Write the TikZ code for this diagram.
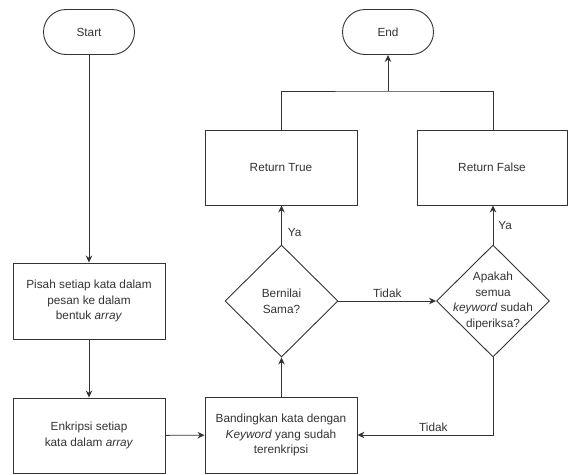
\documentclass[tikz,border=0pt]{standalone}
\usepackage{fontspec}
\setmainfont{Liberation Sans}
\usetikzlibrary{arrows.meta,shapes.geometric}
\definecolor{ink}{HTML}{333333}
\begin{document}
\begin{tikzpicture}[x=1pt,y=-1pt,
  every node/.style={font=\fontsize{11.8}{15.8}\selectfont, text=ink},
  proc/.style={draw=ink, line width=0.9pt, rectangle, minimum width=152, minimum height=76, align=center, inner sep=2pt},
  term/.style={draw=ink, line width=0.9pt, rectangle, rounded corners=22.5, minimum width=91, minimum height=45},
  dec/.style={draw=ink, line width=0.9pt, diamond, minimum width=113, minimum height=112, inner sep=0pt},
  conn/.style={draw=ink, line width=0.9pt, -{Stealth[length=7pt,width=6.5pt]}},
  plain/.style={draw=ink, line width=0.9pt},
  lbl/.style={inner sep=1pt}]
\useasboundingbox (0,0) rectangle (569,474);
\node[term] (start) at (89,32) {Start};
\node[term] (end) at (388,32) {End};
\node[proc] (pisah) at (89,301) {Pisah setiap kata dalam\\pesan ke dalam\\bentuk \textit{array}};
\node[proc, minimum height=75] (enkrip) at (89,435.5) {Enkripsi setiap\\kata dalam \textit{array}};
\node[proc] (band) at (281,435) {Bandingkan kata dengan\\\textit{Keyword} yang sudah\\terenkripsi};
\node[dec, label={center:{\parbox{80pt}{\centering Bernilai\\Sama?}}}] (same) at (281.5,301) {};
\node[dec, label={center:{\parbox{80pt}{\centering Apakah\\semua\\\textit{keyword} sudah\\diperiksa?}}}] (ask) at (493,301) {};
\node[proc, minimum height=75] (rtrue) at (281,167.5) {Return True};
\node[proc, minimum width=150, minimum height=75] (rfalse) at (492,167.5) {Return False};
\coordinate (j) at (388,91);
\draw[conn] (start) -- (pisah);
\draw[conn] (pisah) -- (enkrip);
\draw[conn] (enkrip) -- (band);
\draw[conn] (band.north -| same.south) -- (same.south);
\draw[conn] (same.north) -- (same.north |- rtrue.south) node[lbl, pos=0.3, right=5pt] {Ya};
\draw[conn] (same.east) -- (ask.west) node[lbl, pos=0.5, above=2pt] {Tidak};
\draw[conn] (ask.north) -- (ask.north |- rfalse.south) node[lbl, pos=0.5, right=4pt] {Ya};
\draw[conn] (ask.south) |- (band.east) node[lbl, pos=0.72, above=2pt] {Tidak};
\draw[plain] (rtrue.north) |- (j) -| (ask.north |- rfalse.north);
\draw[conn] (j) -- (end.south);
\end{tikzpicture}
\end{document}
